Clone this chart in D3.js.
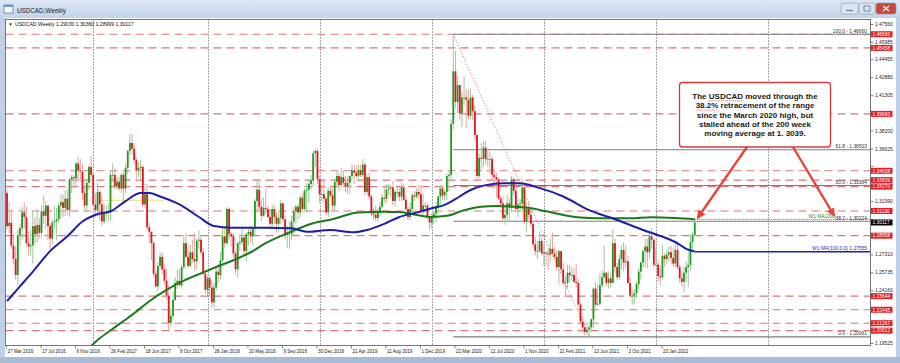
<!DOCTYPE html>
<html>
<head>
<meta charset="utf-8">
<script src="https://cdn.jsdelivr.net/npm/d3@7"></script>
<style>
  body { margin: 0; background: #c4d4e8; }
  svg { display: block; }
  text { font-family: "Liberation Sans", Arial, sans-serif; }
</style>
</head>
<body>
<div id="chart"></div>
<script>
// USDCAD weekly bars, bar 0 = week of 27 Mar 2016, last bar = week of 8 May 2022
// a weekly bar opens where the previous one closed
const firstOpen = 1.327;
const closes = [
  1.298,1.301,1.281,1.269,1.255,1.290,1.296,1.310,1.306,1.283,
  1.280,1.281,1.298,1.291,1.299,1.292,1.311,1.307,1.316,1.298,
  1.287,1.301,1.302,1.304,1.316,1.319,1.314,1.322,1.312,1.339,
  1.341,1.340,1.353,1.347,1.346,1.327,1.316,1.336,1.350,1.343,
  1.317,1.312,1.328,1.317,1.302,1.309,1.310,1.310,1.343,1.343,
  1.333,1.337,1.331,1.343,1.331,1.349,1.364,1.371,1.366,1.356,
  1.347,1.349,1.350,1.317,1.326,1.297,1.293,1.283,1.256,1.245,
  1.263,1.271,1.260,1.250,1.237,1.213,1.219,1.233,1.248,1.250,
  1.246,1.262,1.283,1.271,1.263,1.275,1.269,1.267,1.285,1.286,
  1.275,1.256,1.242,1.252,1.244,1.231,1.244,1.258,1.255,1.268,
  1.289,1.283,1.313,1.291,1.289,1.274,1.260,1.283,1.284,1.288,
  1.276,1.291,1.293,1.289,1.296,1.320,1.330,1.315,1.307,1.314,
  1.313,1.306,1.300,1.313,1.306,1.300,1.305,1.318,1.304,1.291,
  1.291,1.291,1.302,1.311,1.315,1.310,1.323,1.313,1.329,1.330,
  1.335,1.338,1.362,1.364,1.339,1.326,1.326,1.322,1.310,1.329,
  1.325,1.316,1.337,1.342,1.334,1.341,1.336,1.333,1.336,1.342,
  1.347,1.345,1.342,1.347,1.343,1.352,1.328,1.341,1.324,1.309,
  1.308,1.305,1.310,1.315,1.323,1.322,1.330,1.331,1.332,1.320,
  1.328,1.328,1.324,1.332,1.321,1.313,1.306,1.313,1.325,1.324,
  1.328,1.326,1.311,1.316,1.316,1.306,1.301,1.306,1.309,1.315,
  1.324,1.331,1.325,1.328,1.342,1.343,1.388,1.434,1.407,1.422,
  1.397,1.411,1.411,1.409,1.395,1.411,1.399,1.378,1.342,1.358,
  1.357,1.367,1.357,1.357,1.357,1.343,1.341,1.339,1.322,1.318,
  1.305,1.308,1.318,1.315,1.339,1.329,1.313,1.317,1.318,1.332,
  1.302,1.313,1.308,1.300,1.282,1.276,1.276,1.285,1.274,1.275,
  1.274,1.273,1.278,1.274,1.271,1.262,1.276,1.260,1.248,1.248,
  1.257,1.255,1.255,1.249,1.248,1.229,1.214,1.209,1.205,1.207,
  1.209,1.216,1.243,1.229,1.230,1.246,1.253,1.257,1.248,1.252,
  1.248,1.283,1.262,1.253,1.269,1.277,1.266,1.267,1.248,1.237,
  1.237,1.239,1.247,1.258,1.266,1.276,1.280,1.275,1.289,1.286,
  1.264,1.264,1.254,1.253,1.272,1.269,1.273,1.275,1.270,1.265,
  1.277,1.262,1.252,1.249,1.257,1.262,1.264,1.284,1.2903,1.30117
];
const highs = [
  1.330,1.319,1.311,1.291,1.280,1.295,1.300,1.315,1.319,1.315,
  1.293,1.295,1.311,1.306,1.313,1.305,1.316,1.325,1.320,1.316,
  1.300,1.304,1.316,1.314,1.319,1.326,1.326,1.329,1.330,1.340,
  1.343,1.343,1.355,1.359,1.357,1.353,1.333,1.339,1.352,1.360,
  1.346,1.327,1.336,1.330,1.324,1.318,1.316,1.318,1.346,1.353,
  1.349,1.341,1.341,1.345,1.345,1.353,1.365,1.379,1.379,1.371,
  1.358,1.354,1.356,1.352,1.335,1.335,1.301,1.293,1.285,1.259,
  1.266,1.275,1.275,1.265,1.260,1.246,1.226,1.240,1.253,1.260,
  1.260,1.264,1.290,1.292,1.280,1.282,1.286,1.292,1.287,1.294,
  1.290,1.278,1.259,1.254,1.254,1.251,1.248,1.262,1.265,1.275,
  1.297,1.298,1.315,1.314,1.293,1.292,1.276,1.284,1.291,1.295,
  1.290,1.292,1.296,1.298,1.297,1.322,1.339,1.339,1.322,1.323,
  1.330,1.316,1.313,1.317,1.316,1.311,1.310,1.321,1.318,1.307,
  1.298,1.302,1.307,1.315,1.317,1.317,1.325,1.327,1.331,1.336,
  1.338,1.343,1.364,1.366,1.366,1.342,1.334,1.339,1.323,1.332,
  1.334,1.331,1.340,1.347,1.345,1.349,1.347,1.342,1.342,1.343,
  1.352,1.352,1.352,1.352,1.352,1.357,1.354,1.343,1.345,1.326,
  1.314,1.316,1.314,1.319,1.326,1.334,1.335,1.335,1.334,1.338,
  1.330,1.332,1.331,1.336,1.335,1.325,1.315,1.319,1.327,1.329,
  1.331,1.334,1.334,1.326,1.319,1.318,1.306,1.309,1.311,1.319,
  1.325,1.334,1.334,1.329,1.344,1.346,1.392,1.4666,1.452,1.430,
  1.422,1.415,1.430,1.419,1.418,1.419,1.413,1.404,1.378,1.362,
  1.371,1.373,1.373,1.366,1.363,1.359,1.348,1.345,1.341,1.325,
  1.324,1.317,1.325,1.322,1.342,1.341,1.337,1.321,1.322,1.339,
  1.336,1.319,1.319,1.315,1.302,1.289,1.285,1.293,1.288,1.281,
  1.275,1.279,1.287,1.292,1.280,1.277,1.277,1.276,1.266,1.254,
  1.264,1.264,1.262,1.261,1.265,1.252,1.232,1.219,1.213,1.214,
  1.213,1.217,1.244,1.249,1.247,1.256,1.259,1.281,1.258,1.258,
  1.257,1.295,1.287,1.266,1.273,1.281,1.284,1.281,1.272,1.253,
  1.242,1.243,1.249,1.261,1.267,1.277,1.287,1.287,1.294,1.296,
  1.287,1.279,1.268,1.262,1.281,1.274,1.277,1.280,1.281,1.279,
  1.283,1.285,1.264,1.257,1.262,1.267,1.275,1.291,1.293,1.3036
];
const lows = [
  1.296,1.292,1.278,1.264,1.251,1.246,1.280,1.286,1.296,1.280,
  1.272,1.272,1.265,1.283,1.283,1.287,1.288,1.300,1.296,1.286,
  1.275,1.282,1.296,1.286,1.302,1.304,1.306,1.307,1.308,1.306,
  1.327,1.331,1.333,1.338,1.337,1.321,1.311,1.310,1.330,1.340,
  1.315,1.306,1.308,1.303,1.298,1.300,1.303,1.302,1.303,1.337,
  1.330,1.330,1.329,1.327,1.318,1.327,1.344,1.360,1.361,1.352,
  1.339,1.341,1.339,1.315,1.314,1.294,1.283,1.268,1.253,1.244,
  1.241,1.261,1.256,1.247,1.234,1.206,1.210,1.216,1.232,1.243,
  1.245,1.243,1.260,1.270,1.261,1.262,1.266,1.259,1.260,1.278,
  1.273,1.255,1.239,1.236,1.236,1.226,1.226,1.241,1.248,1.251,
  1.266,1.279,1.281,1.286,1.280,1.270,1.256,1.253,1.276,1.281,
  1.273,1.267,1.281,1.283,1.281,1.290,1.310,1.311,1.302,1.306,
  1.309,1.304,1.297,1.296,1.300,1.292,1.293,1.300,1.302,1.286,
  1.279,1.278,1.286,1.290,1.300,1.304,1.306,1.310,1.311,1.310,
  1.318,1.330,1.333,1.350,1.335,1.318,1.320,1.318,1.307,1.306,
  1.323,1.312,1.311,1.332,1.329,1.331,1.333,1.328,1.326,1.326,
  1.338,1.335,1.340,1.340,1.341,1.341,1.325,1.325,1.321,1.307,
  1.303,1.302,1.302,1.306,1.314,1.318,1.318,1.325,1.323,1.316,
  1.315,1.323,1.320,1.320,1.320,1.311,1.303,1.304,1.312,1.320,
  1.322,1.322,1.309,1.308,1.312,1.304,1.295,1.296,1.300,1.301,
  1.309,1.317,1.321,1.321,1.321,1.329,1.340,1.383,1.402,1.397,
  1.392,1.385,1.404,1.384,1.391,1.392,1.391,1.373,1.339,1.340,
  1.347,1.350,1.352,1.350,1.344,1.337,1.331,1.323,1.321,1.315,
  1.302,1.299,1.302,1.303,1.310,1.325,1.312,1.306,1.310,1.311,
  1.300,1.293,1.304,1.297,1.279,1.272,1.269,1.275,1.272,1.263,
  1.263,1.259,1.266,1.271,1.269,1.259,1.247,1.256,1.246,1.237,
  1.243,1.249,1.250,1.248,1.244,1.228,1.213,1.204,1.202,1.203,
  1.2006,1.205,1.208,1.227,1.228,1.228,1.244,1.252,1.245,1.243,
  1.244,1.248,1.257,1.250,1.251,1.260,1.258,1.261,1.247,1.236,
  1.229,1.229,1.235,1.242,1.251,1.261,1.262,1.261,1.270,1.278,
  1.262,1.263,1.249,1.246,1.251,1.262,1.265,1.267,1.265,1.262,
  1.262,1.260,1.248,1.245,1.240,1.249,1.245,1.259,1.276,1.28999
];

// moving averages (bar index, value)
const ma100Bars = [0,6,12,20,28,35,43,48,55,62,66,71,80,89,96,104,120,132,139,150,161,167,175,182,190,197,203,210,215,222,230,238,246,258,270,283,295,304,311,315,319];
const ma100Values = [1.232,1.245,1.258,1.276,1.289,1.302,1.309,1.311,1.320,1.327,1.327,1.324,1.317,1.306,1.298,1.2965,1.2965,1.296,1.293,1.2945,1.2925,1.2946,1.300,1.306,1.310,1.3136,1.3166,1.324,1.3297,1.334,1.3356,1.3356,1.332,1.324,1.312,1.3034,1.2946,1.2887,1.2829,1.278,1.2756];
const ma200Bars = [0,20,30,43,50,59,66,74,82,90,97,105,113,120,130,142,151,163,175,182,190,197,204,212,220,227,235,243,250,258,266,274,289,299,310,319];
const ma200Values = [1.120,1.155,1.175,1.1994,1.209,1.2214,1.232,1.242,1.250,1.2565,1.262,1.268,1.275,1.283,1.2917,1.3005,1.304,1.310,1.3105,1.3104,1.3078,1.306,1.307,1.312,1.315,1.3157,1.315,1.3136,1.311,1.3078,1.3055,1.3048,1.3048,1.3057,1.305,1.3039];
const ma100Last = 1.27555;
const ma200Last = 1.3039;

// axis texts
const dateLabels = ["27 Mar 2016","17 Jul 2016","6 Nov 2016","26 Feb 2017","18 Jun 2017","8 Oct 2017","28 Jan 2018","20 May 2018","9 Sep 2018","30 Dec 2018","21 Apr 2019","11 Aug 2019","1 Dec 2019","22 Mar 2020","12 Jul 2020","1 Nov 2020","21 Feb 2021","13 Jun 2021","3 Oct 2021","23 Jan 2022"];
const dateStep = 16;
const yearSeparators = [40, 93, 145, 197, 249, 301, 353];
const priceTicks = [1.47560,1.45985,1.44455,1.42880,1.41305,1.39730,1.38200,1.36625,1.35095,1.33520,1.31990,1.30415,1.28885,1.27310,1.25735,1.24160,1.22630,1.21055,1.19525];

// drawn levels
const levelLines = [1.46660,1.45458,1.39660,1.34658,1.33839,1.33270,1.31130,1.28958,1.23644,1.22445,1.21267,1.20612];
const fibNames = ["100.0","61.8","50.0","38.2","0.0"];
const fibPrices = [1.46660,1.36503,1.33364,1.30224,1.20061];
const fibHighBar = 207;
const fibLowBar = 270;
const yellowLine = { from: 43, to: 73, price: 1.3207 };

const symbol = "USDCAD,Weekly";
const ohlcInfo = [1.29030, 1.30360, 1.28999, 1.30117];
const noteLines = [
  "The USDCAD moved through the",
  "38.2% retracement of the range",
  "since the March 2020 high, but",
  "stalled ahead of the 200 week",
  "moving average at 1. 3039."
];

class TerminalChart {
  constructor() {
    this.w = 900;
    this.h = 363;
    this.plot = { left: 5.5, right: 870.5, top: 19.5, bottom: 345.5 };
    this.palette = {
      up: "#1e9a1e", down: "#e3151b",
      upWick: "#9cc79c", downWick: "#e7a3a3",
      level: "#d9777b", fib: "#7d7d7d",
      ma100: "#1f1fa8", ma200: "#1b7a1b",
      tag: "#e31e24", note: "#e8453c"
    };
    this.init();
  }

  init() {
    const p = this.palette;
    const svg = d3.select("#chart").append("svg")
      .attr("width", this.w).attr("height", this.h);
    const defs = svg.append("defs");

    // window chrome
    const grad = defs.append("linearGradient").attr("id", "titleGrad")
      .attr("x1", 0).attr("y1", 0).attr("x2", 0).attr("y2", 1);
    grad.append("stop").attr("offset", 0).attr("stop-color", "#dde7f4");
    grad.append("stop").attr("offset", 1).attr("stop-color", "#c3d4ea");
    svg.append("rect").attr("width", this.w).attr("height", this.h).attr("fill", "#c0d1e7");
    svg.append("rect").attr("width", this.w).attr("height", 18).attr("fill", "url(#titleGrad)");
    svg.append("rect").attr("x", 0).attr("y", 357).attr("width", this.w).attr("height", 6).attr("fill", "#a7bcd6");
    svg.append("rect").attr("x", 4).attr("y", 5).attr("width", 9).attr("height", 8)
      .attr("fill", "#fff").attr("stroke", "#5b7fa8").attr("stroke-width", 0.8);
    svg.append("rect").attr("x", 4).attr("y", 5).attr("width", 9).attr("height", 2).attr("fill", "#6f97c6");
    svg.append("text").attr("x", 17).attr("y", 12.5).attr("font-size", 6.3)
      .attr("fill", "#1b1b1b").text(symbol);

    const buttons = [
      { x: 841, w: 17, fill: "#dbe5f2" },
      { x: 859, w: 16, fill: "#dbe5f2" },
      { x: 876, w: 20, fill: "#c9473b" }
    ];
    svg.selectAll("rect.btn").data(buttons).enter().append("rect")
      .attr("class", "btn")
      .attr("x", d => d.x).attr("y", 3).attr("width", d => d.w).attr("height", 11).attr("rx", 2)
      .attr("fill", d => d.fill).attr("stroke", "#8398b4").attr("stroke-width", 0.6);
    svg.append("line").attr("x1", 846).attr("x2", 853).attr("y1", 10.5).attr("y2", 10.5)
      .attr("stroke", "#6a7d96").attr("stroke-width", 1.2);
    svg.append("rect").attr("x", 864).attr("y", 6).attr("width", 6).attr("height", 5)
      .attr("fill", "none").attr("stroke", "#6a7d96").attr("stroke-width", 0.9);
    svg.append("path").attr("d", "M883,6 L889,11 M889,6 L883,11")
      .attr("stroke", "#fff").attr("stroke-width", 1.3);

    // chart panel
    svg.append("rect").attr("x", 5).attr("y", 18).attr("width", 891).attr("height", 339)
      .attr("fill", "#fff");

    // scales
    this.x = d3.scaleLinear().domain([0, 400]).range([7, 869.4]);
    this.y = d3.scaleLinear().domain([1.19525, 1.47560]).range([343, 24]);
    const x = this.x, y = this.y;
    const pl = this.plot;

    defs.append("clipPath").attr("id", "plotClip").append("rect")
      .attr("x", pl.left).attr("y", pl.top).attr("width", pl.right - pl.left).attr("height", pl.bottom - pl.top);
    const g = svg.append("g").attr("clip-path", "url(#plotClip)");

    // period separators
    g.selectAll("line.sep").data(yearSeparators).enter().append("line")
      .attr("class", "sep")
      .attr("x1", d => Math.round(x(d)) + 0.5).attr("x2", d => Math.round(x(d)) + 0.5)
      .attr("y1", pl.top).attr("y2", pl.bottom)
      .attr("stroke", "#222").attr("stroke-width", 0.8).attr("stroke-dasharray", "1,2");

    // horizontal levels
    g.selectAll("line.level").data(levelLines).enter().append("line")
      .attr("class", "level")
      .attr("x1", pl.left).attr("x2", pl.right)
      .attr("y1", d => y(d)).attr("y2", d => y(d))
      .attr("stroke", p.level).attr("stroke-width", 1.1).attr("stroke-dasharray", "8,5");

    g.append("line")
      .attr("x1", x(yellowLine.from)).attr("x2", x(yellowLine.to))
      .attr("y1", y(yellowLine.price)).attr("y2", y(yellowLine.price))
      .attr("stroke", "#f1e07a").attr("stroke-width", 1);

    // fibonacci
    g.selectAll("line.fib").data(fibPrices).enter().append("line")
      .attr("class", "fib")
      .attr("x1", x(fibHighBar)).attr("x2", pl.right)
      .attr("y1", d => y(d)).attr("y2", d => y(d))
      .attr("stroke", p.fib).attr("stroke-width", 1.1);
    g.append("line")
      .attr("x1", x(fibHighBar)).attr("y1", y(fibPrices[0]))
      .attr("x2", x(fibLowBar)).attr("y2", y(fibPrices[4]))
      .attr("stroke", "#b0524f").attr("stroke-width", 0.8).attr("stroke-dasharray", "1,2");

    // candles
    const bars = closes.map((c, i) => ({
      i: i, o: i === 0 ? firstOpen : closes[i - 1], h: highs[i], l: lows[i], c: c
    }));
    g.selectAll("line.wick").data(bars).enter().append("line")
      .attr("class", "wick")
      .attr("x1", d => x(d.i)).attr("x2", d => x(d.i))
      .attr("y1", d => y(d.h)).attr("y2", d => y(d.l))
      .attr("stroke", d => d.c >= d.o ? p.upWick : p.downWick).attr("stroke-width", 1);
    g.selectAll("rect.body").data(bars).enter().append("rect")
      .attr("class", "body")
      .attr("x", d => x(d.i) - 0.9).attr("width", 1.8)
      .attr("y", d => y(Math.max(d.o, d.c)))
      .attr("height", d => Math.max(0.8, Math.abs(y(d.o) - y(d.c))))
      .attr("fill", d => d.c >= d.o ? p.up : p.down);

    // moving averages
    const line = d3.line().x(d => x(d[0])).y(d => y(d[1])).curve(d3.curveMonotoneX);
    g.append("path").datum(d3.zip(ma200Bars, ma200Values)).attr("d", line)
      .attr("fill", "none").attr("stroke", p.ma200).attr("stroke-width", 2);
    g.append("path").datum(d3.zip(ma100Bars, ma100Values)).attr("d", line)
      .attr("fill", "none").attr("stroke", p.ma100).attr("stroke-width", 2);

    const lastBar = closes.length - 1;
    g.append("line").attr("x1", x(lastBar)).attr("x2", pl.right)
      .attr("y1", y(ma100Last)).attr("y2", y(ma100Last))
      .attr("stroke", p.ma100).attr("stroke-width", 1.5);
    g.append("line").attr("x1", x(lastBar)).attr("x2", pl.right)
      .attr("y1", y(ma200Last)).attr("y2", y(ma200Last))
      .attr("stroke", "#3d9a3d").attr("stroke-width", 1).attr("stroke-dasharray", "1,1");

    // object labels
    const fs = 4.9;
    svg.selectAll("text.fibLabel").data(fibPrices).enter().append("text")
      .attr("class", "fibLabel")
      .attr("x", 867).attr("y", d => y(d) - 1.5)
      .attr("text-anchor", "end").attr("font-size", fs).attr("fill", "#333")
      .text((d, i) => fibNames[i] + " - " + d3.format(".5f")(d));
    svg.append("text").attr("x", 836).attr("y", y(ma200Last) - 1.5)
      .attr("text-anchor", "end").attr("font-size", fs).attr("fill", "#2c8a2c")
      .text("W1 MA(200)");
    svg.append("text").attr("x", 867).attr("y", y(ma100Last) - 1.5)
      .attr("text-anchor", "end").attr("font-size", fs).attr("fill", p.ma100)
      .text("W1 MA(100,0,0) " + d3.format(".5f")(ma100Last));

    // plot frame
    svg.append("rect").attr("x", pl.left).attr("y", pl.top)
      .attr("width", pl.right - pl.left).attr("height", pl.bottom - pl.top)
      .attr("fill", "none").attr("stroke", "#555").attr("stroke-width", 0.8);

    // price axis: labels that sit under a price tag are hidden, as in the terminal
    const last = ohlcInfo[3];
    const tagged = levelLines.concat([last]);
    const freeTicks = priceTicks.filter(t => tagged.every(v => Math.abs(y(t) - y(v)) > 5.5));
    const yAxis = svg.append("g").attr("transform", "translate(" + pl.right + ",0)")
      .call(d3.axisRight(y).tickValues(priceTicks).tickSize(3).tickPadding(1.5)
        .tickFormat(t => freeTicks.includes(t) ? d3.format(".5f")(t) : ""));
    yAxis.select(".domain").remove();
    yAxis.selectAll("line").attr("stroke", "#555").attr("stroke-width", 0.7);
    yAxis.selectAll("text").attr("font-size", fs).attr("fill", "#222")
      .attr("font-family", "Liberation Sans, Arial, sans-serif");

    // time axis
    const ticks = dateLabels.map((t, i) => ({ t: t, bar: i * dateStep }));
    svg.selectAll("line.dtick").data(ticks).enter().append("line")
      .attr("class", "dtick")
      .attr("x1", d => x(d.bar) - 0.5).attr("x2", d => x(d.bar) - 0.5)
      .attr("y1", pl.bottom).attr("y2", pl.bottom + 3)
      .attr("stroke", "#555").attr("stroke-width", 0.7);
    svg.selectAll("text.dlabel").data(ticks).enter().append("text")
      .attr("class", "dlabel")
      .attr("x", d => x(d.bar) + 0.5).attr("y", 352.5)
      .attr("font-size", 4.6).attr("fill", "#222")
      .text(d => d.t);

    // price tags
    svg.selectAll("rect.tag").data(levelLines).enter().append("rect")
      .attr("class", "tag")
      .attr("x", 871).attr("y", d => y(d) - 3).attr("width", 21.5).attr("height", 6)
      .attr("fill", p.tag);
    svg.selectAll("text.tag").data(levelLines).enter().append("text")
      .attr("class", "tag")
      .attr("x", 872.5).attr("y", d => y(d) + 1.8)
      .attr("font-size", fs).attr("fill", "#fff")
      .text(d => d3.format(".5f")(d));
    svg.append("rect").attr("x", 871).attr("y", y(last) - 3).attr("width", 21.5).attr("height", 6)
      .attr("fill", "#000");
    svg.append("text").attr("x", 872.5).attr("y", y(last) + 1.8)
      .attr("font-size", fs).attr("fill", "#fff").text(d3.format(".5f")(last));

    // symbol info line
    svg.append("path").attr("d", "M9,23.5 L12,23.5 L10.5,25.5 Z").attr("fill", "#111");
    svg.append("text").attr("x", 15).attr("y", 26).attr("font-size", 5.1).attr("fill", "#111")
      .text(symbol + "  " + ohlcInfo.map(d3.format(".5f")).join(" "));

    // comment box with arrows
    const arrow = defs.append("marker").attr("id", "head")
      .attr("viewBox", "0 0 10 10").attr("refX", 8).attr("refY", 5)
      .attr("markerWidth", 3.6).attr("markerHeight", 3.6).attr("orient", "auto");
    arrow.append("path").attr("d", "M0,0 L10,5 L0,10 Z").attr("fill", p.note);

    svg.append("line")
      .attr("x1", 747).attr("y1", 147).attr("x2", x(lastBar) + 3).attr("y2", y(highs[lastBar]) - 2)
      .attr("stroke", p.note).attr("stroke-width", 2.4).attr("marker-end", "url(#head)");
    svg.append("line")
      .attr("x1", 793).attr("y1", 147).attr("x2", 834).attr("y2", y(ma200Last) - 4)
      .attr("stroke", p.note).attr("stroke-width", 2.4).attr("marker-end", "url(#head)");

    svg.append("rect").attr("x", 679.5).attr("y", 82.5).attr("width", 151).attr("height", 64.5).attr("rx", 3)
      .attr("fill", "#fff").attr("stroke", "#d23b3b").attr("stroke-width", 1.3);
    const note = svg.selectAll("text.note").data(noteLines).enter().append("text")
      .attr("class", "note")
      .attr("x", 755).attr("y", (d, i) => 99 + i * 9.3)
      .attr("text-anchor", "middle").attr("font-size", 8).attr("font-weight", "bold")
      .attr("fill", "#1a1a1a").text(d => d);

    // spell-check marks under two words
    const marks = [{ line: 0, word: "USDCAD" }, { line: 1, word: "38.2%" }];
    marks.forEach(m => {
      const node = note.nodes()[m.line];
      const idx = noteLines[m.line].indexOf(m.word);
      const x0 = node.getStartPositionOfChar(idx).x;
      const x1 = node.getEndPositionOfChar(idx + m.word.length - 1).x;
      const yy = 99 + m.line * 9.3 + 1.8;
      svg.append("line").attr("x1", x0).attr("x2", x1).attr("y1", yy).attr("y2", yy)
        .attr("stroke", "#e03a3a").attr("stroke-width", 0.8).attr("stroke-dasharray", "1,1");
    });
  }
}

new TerminalChart();
</script>
</body>
</html>
